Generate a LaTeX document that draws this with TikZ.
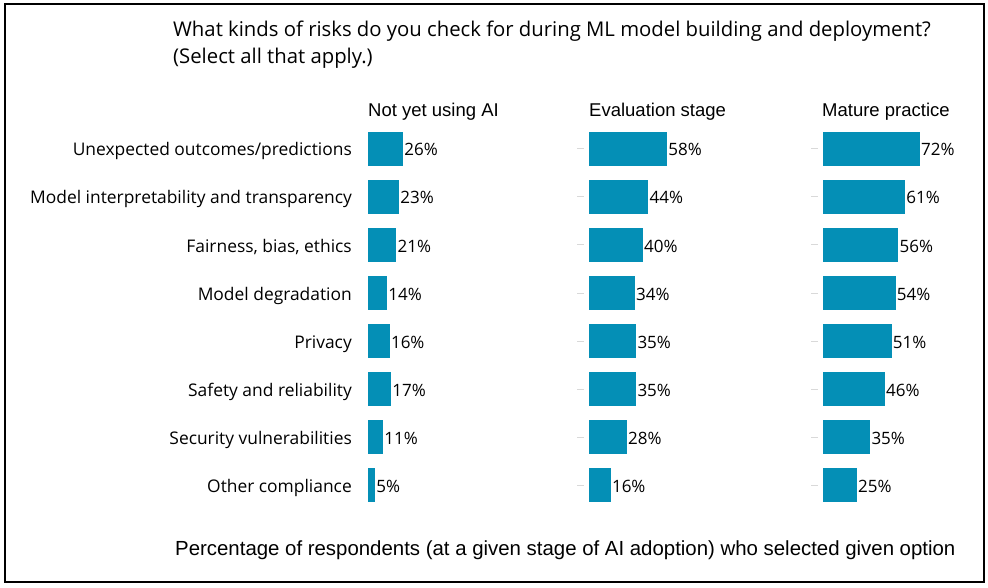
\documentclass[tikz,border=0pt]{standalone}
\usepackage{fontspec}
\setmainfont{Open Sans}
\newfontfamily\stagefont{Liberation Sans}
\usetikzlibrary{positioning}
\definecolor{barblue}{RGB}{4,143,182}

\begin{document}
\begin{tikzpicture}[x=1pt, y=-1pt,
        question/.style={font=\fontsize{20.3}{24}\selectfont, anchor=base west, inner sep=0pt},
        stage/.style={font=\stagefont\fontsize{18.5}{22}\selectfont, anchor=base west, inner sep=0pt},
        caption/.style={font=\stagefont\fontsize{20.4}{24}\selectfont, anchor=base west, inner sep=0pt},
        risk/.style={font=\fontsize{17.4}{20}\selectfont, anchor=east, inner sep=0pt, text height=14pt, text depth=0pt},
        bar/.style={fill=barblue, inner sep=0pt, minimum height=34pt, anchor=west},
        pct/.style={font=\fontsize{17}{20}\selectfont, fill=none, inner sep=1pt, minimum width=0pt, minimum height=0pt, text height=14pt, text depth=0pt, label distance=0pt},
        tickmark/.style={fill=gray!30, inner sep=0pt, minimum width=7pt, minimum height=1pt, label distance=5pt},
        ticked/.style={label={[tickmark]left:{}}}]
                \useasboundingbox (0,0) rectangle (988,588);
                \draw[line width=1.2pt] (5,4) rectangle (984,582);
                \node[question] (q1) at (173,37) {What kinds of risks do you check for during ML model building and deployment?};
                \node[question] (q2) at (173,64) {(Select all that apply.)};
                \node[stage] (noai) at (368,116.5) {Not yet using AI};
                \node[stage] (eval) at (589,116.5) {Evaluation stage};
                \node[stage] (mature) at (822,116.5) {Mature practice};
                % Unexpected outcomes
                \node[risk] (risk1) at (352,149) {Unexpected outcomes/predictions};
                \node[bar, minimum width=26*1.34, label={[pct]right:26\%}] (noai1) at (368,149) {};
                \node[bar, ticked, minimum width=58*1.34, label={[pct]right:58\%}] (eval1) at (589,149) {};
                \node[bar, ticked, minimum width=72*1.34, label={[pct]right:72\%}] (mature1) at (823,149) {};
                % interpretability
                \node[risk] (risk2) at (352,197) {Model interpretability and transparency};
                \node[bar, minimum width=23*1.34, label={[pct]right:23\%}] (noai2) at (368,197) {};
                \node[bar, ticked, minimum width=44*1.34, label={[pct]right:44\%}] (eval2) at (589,197) {};
                \node[bar, ticked, minimum width=61*1.34, label={[pct]right:61\%}] (mature2) at (823,197) {};
                % fairness
                \node[risk] (risk3) at (352,245) {Fairness, bias, ethics};
                \node[bar, minimum width=21*1.34, label={[pct]right:21\%}] (noai3) at (368,245) {};
                \node[bar, ticked, minimum width=40*1.34, label={[pct]right:40\%}] (eval3) at (589,245) {};
                \node[bar, ticked, minimum width=56*1.34, label={[pct]right:56\%}] (mature3) at (823,245) {};
                % degradation
                \node[risk] (risk4) at (352,293) {Model degradation};
                \node[bar, minimum width=14*1.34, label={[pct]right:14\%}] (noai4) at (368,293) {};
                \node[bar, ticked, minimum width=34*1.34, label={[pct]right:34\%}] (eval4) at (589,293) {};
                \node[bar, ticked, minimum width=54*1.34, label={[pct]right:54\%}] (mature4) at (823,293) {};
                % privacy
                \node[risk] (risk5) at (352,341) {Privacy};
                \node[bar, minimum width=16*1.34, label={[pct]right:16\%}] (noai5) at (368,341) {};
                \node[bar, ticked, minimum width=35*1.34, label={[pct]right:35\%}] (eval5) at (589,341) {};
                \node[bar, ticked, minimum width=51*1.34, label={[pct]right:51\%}] (mature5) at (823,341) {};
                % safety
                \node[risk] (risk6) at (352,389) {Safety and reliability};
                \node[bar, minimum width=17*1.34, label={[pct]right:17\%}] (noai6) at (368,389) {};
                \node[bar, ticked, minimum width=35*1.34, label={[pct]right:35\%}] (eval6) at (589,389) {};
                \node[bar, ticked, minimum width=46*1.34, label={[pct]right:46\%}] (mature6) at (823,389) {};
                % security
                \node[risk] (risk7) at (352,437) {Security vulnerabilities};
                \node[bar, minimum width=11*1.34, label={[pct]right:11\%}] (noai7) at (368,437) {};
                \node[bar, ticked, minimum width=28*1.34, label={[pct]right:28\%}] (eval7) at (589,437) {};
                \node[bar, ticked, minimum width=35*1.34, label={[pct]right:35\%}] (mature7) at (823,437) {};
                % other compliance
                \node[risk] (risk8) at (352,485) {Other compliance};
                \node[bar, minimum width=5*1.34, label={[pct]right:5\%}] (noai8) at (368,485) {};
                \node[bar, ticked, minimum width=16*1.34, label={[pct]right:16\%}] (eval8) at (589,485) {};
                \node[bar, ticked, minimum width=25*1.34, label={[pct]right:25\%}] (mature8) at (823,485) {};
                \node[caption] (footer) at (175,555) {Percentage of respondents (at a given stage of AI adoption) who selected given option};
\end{tikzpicture}
\end{document}
